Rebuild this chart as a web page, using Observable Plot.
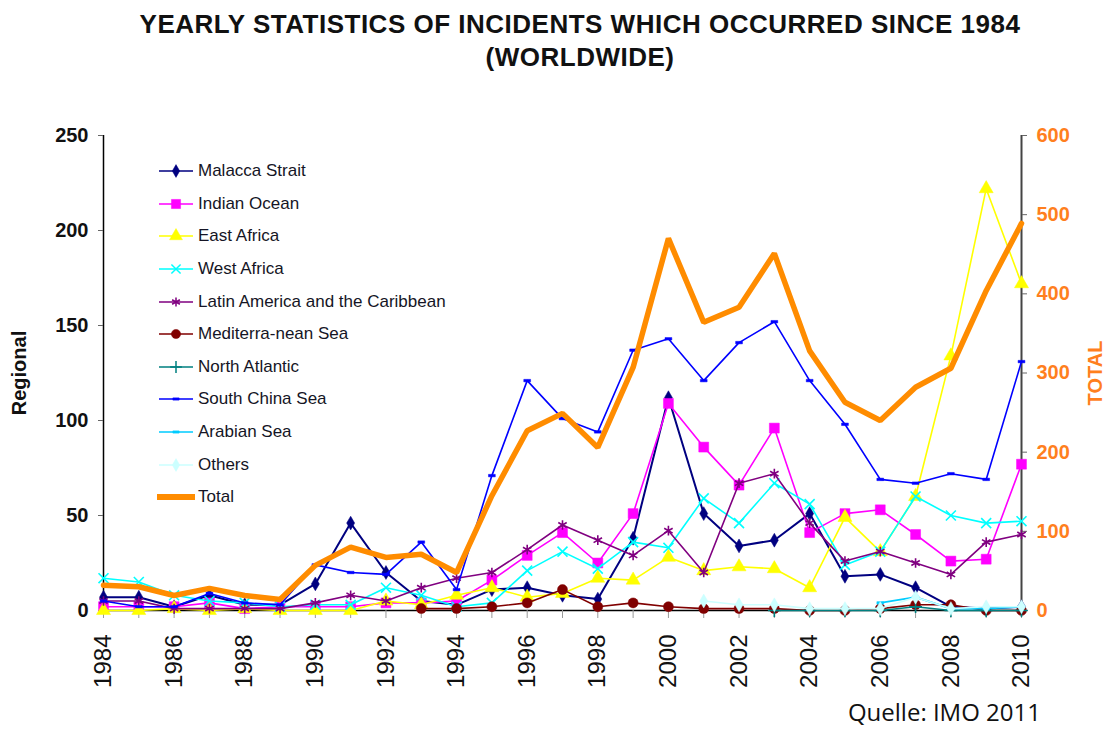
<!DOCTYPE html>
<html><head><meta charset="utf-8">
<script src="https://cdn.jsdelivr.net/npm/d3@7"></script>
<script src="https://cdn.jsdelivr.net/npm/@observablehq/plot@0.6"></script>
<style>
body{margin:0;background:#fff;font-family:"Liberation Sans",Arial,sans-serif;}
#wrap{position:relative;width:1105px;height:731px;overflow:hidden;}
#title{height:90px;box-sizing:border-box;padding-top:8px;padding-left:55px;text-align:center;font-weight:bold;font-size:26px;letter-spacing:0.5px;line-height:33px;color:#111;}
#chart svg{display:block;}
#legend{position:absolute;left:157px;top:155px;}
.row{height:32.6px;display:flex;align-items:center;font-size:17px;color:#151525;white-space:nowrap;}
.row svg{margin-right:3px;}
#caption{position:absolute;right:64px;top:699px;font-family:"Open Sans",sans-serif;font-size:24px;color:#111;line-height:26px;}
</style></head>
<body>
<div id="wrap">
<div id="title">YEARLY STATISTICS OF INCIDENTS WHICH OCCURRED SINCE 1984<br>(WORLDWIDE)</div>
<div id="chart"></div>
<div id="legend"></div>
<div id="caption">Quelle: IMO 2011</div>
</div>
<script>
const years = [1984,1985,1986,1987,1988,1989,1990,1991,1992,1993,1994,1995,1996,1997,1998,1999,2000,2001,2002,2003,2004,2005,2006,2007,2008,2009,2010];
const labelYears = [1984,1986,1988,1990,1992,1994,1996,1998,2000,2002,2004,2006,2008,2010];
const regionalTicks = [0,50,100,150,200,250];
const totalTicks = [0,100,200,300,400,500,600];

const malaccaStrait = [7,7,2,8,3,3,14,46,20,5,3,11,12,8,6,38,112,51,34,37,51,18,19,12,2,1,2];
const indianOcean   = [2,2,2,4,1,2,2,2,4,4,5,16,29,41,25,51,109,86,66,96,41,51,53,40,26,27,77];
const eastAfrica    = [0,0,1,0,1,0,0,0,5,3,8,12,7,9,17,16,28,21,23,22,12,49,31,60,134,222,172];
const westAfrica    = [17,15,8,5,4,2,3,3,12,8,2,4,21,31,22,36,33,59,46,67,56,24,31,60,50,46,47];
const latinAmerica  = [5,5,1,1,1,1,4,8,5,12,17,20,32,45,37,29,42,20,67,72,46,26,31,25,19,36,40];
const mediterranean = [null,null,null,null,null,null,null,null,null,1,1,2,4,11,2,4,2,1,1,1,0,0,1,3,3,0,0];
const northAtlantic = [null,null,null,null,null,null,null,null,null,null,null,null,null,null,null,null,null,null,null,0,0,0,0,2,0,0,0];
const southChinaSea = [5,2,2,9,4,3,24,20,19,36,11,71,121,101,94,137,143,121,141,152,121,98,69,67,72,69,131];
const arabianSea    = [null,null,null,null,null,null,null,null,null,null,null,null,null,null,null,null,null,null,null,null,null,null,4,7,1,1,2];
const others        = [null,null,null,null,null,null,null,null,null,null,null,null,null,null,null,null,null,5,3,3,1,1,1,7,1,2,2];
const total         = [32,30,19,28,19,14,57,80,67,71,48,145,227,249,206,307,470,364,383,451,328,263,240,282,306,404,489];

const REG_MAX = 250, TOT_MAX = 600;
const toReg = v => v * REG_MAX / TOT_MAX;

const dash = {draw(ctx, size){ const w = Math.sqrt(size); ctx.rect(-w*0.6, -w*0.22, w*1.2, w*0.44); }};

const series = [
  {name:"Malacca Strait", values:malaccaStrait, color:"#000080", symbol:"diamond", r:4.2, filled:true, sw:2},
  {name:"Indian Ocean", values:indianOcean, color:"#FF00FF", symbol:"square", r:5.6, filled:true, sw:1.6},
  {name:"East Africa", values:eastAfrica, color:"#FFFF00", symbol:"triangle", r:5.2, filled:true, sw:1.6},
  {name:"West Africa", values:westAfrica, color:"#00FFFF", symbol:"times", r:4.6, filled:false, sw:1.6},
  {name:"Latin America and the Caribbean", values:latinAmerica, color:"#800080", symbol:"asterisk", r:4.6, filled:false, sw:1.6},
  {name:"Mediterra-nean Sea", values:mediterranean, color:"#800000", symbol:"circle", r:5, filled:true, sw:1.6},
  {name:"North Atlantic", values:northAtlantic, color:"#008080", symbol:"plus", r:4.2, filled:false, sw:1.6},
  {name:"South China Sea", values:southChinaSea, color:"#0000FF", symbol:dash, r:3.2, filled:true, sw:1.6},
  {name:"Arabian Sea", values:arabianSea, color:"#00CCFF", symbol:dash, r:3.2, filled:true, sw:1.8},
  {name:"Others", values:others, color:"#CCFFFF", symbol:"diamond", r:4.2, filled:true, sw:1.6}
];

const marks = [
  Plot.ruleY([0], {stroke:"#000", strokeWidth:1.5}),
  Plot.ruleX([years[0]], {stroke:"#000", strokeWidth:1.5}),
  Plot.ruleX([years[years.length-1]], {stroke:"#444", strokeWidth:2}),
  Plot.axisX({ticks:years, tickFormat:()=>"", tickSize:8, stroke:"#999", label:null}),
  Plot.axisX({ticks:labelYears, tickFormat:d=>String(d), tickSize:0, tickPadding:24, tickRotate:-90, fontSize:24, fill:"#111", label:null}),
  Plot.axisY({ticks:regionalTicks, tickSize:5, tickPadding:10, fontSize:20, fontWeight:"bold", fill:"#111", stroke:"#666",
              label:"Regional", labelAnchor:"center", labelArrow:"none", labelOffset:92}),
  Plot.axisY({anchor:"right", ticks:totalTicks.map(toReg), tickFormat:d=>String(Math.round(d*TOT_MAX/REG_MAX)),
              tickSize:5, tickPadding:10, fontSize:20, fontWeight:"bold", fill:"#FF7F1E", stroke:"#666",
              label:"TOTAL", labelAnchor:"center", labelArrow:"none", labelOffset:80})
];

for (const s of series) {
  const rows = years.map((yr, i) => ({year: yr, value: s.values[i]}));
  marks.push(Plot.line(rows, {x:"year", y:"value", stroke:s.color, strokeWidth:s.sw}));
  marks.push(Plot.dot(rows.filter(d => d.value != null), {
    x:"year", y:"value", symbol:()=>s.symbol, r:s.r,
    fill: s.filled ? s.color : "none", stroke: s.color, strokeWidth: s.filled ? 0.5 : 1.6
  }));
}
const totalRows = years.map((yr, i) => ({year: yr, value: toReg(total[i])}));
marks.push(Plot.line(totalRows, {x:"year", y:"value", stroke:"#FF8C00", strokeWidth:5.5, strokeLinejoin:"miter"}));

const chart = Plot.plot({
  width:1105, height:612,
  marginLeft:103, marginRight:84, marginTop:45, marginBottom:92,
  x:{type:"linear", domain:[years[0], years[years.length-1]]},
  y:{domain:[0, REG_MAX]},
  symbol:{type:"identity"},
  style:{fontFamily:"'Liberation Sans', Arial, sans-serif", background:"transparent", overflow:"visible"},
  marks
});
document.getElementById("chart").appendChild(chart);

// legend
const legend = document.getElementById("legend");
const symMap = {diamond:d3.symbolDiamond, square:d3.symbolSquare, triangle:d3.symbolTriangle, times:d3.symbolTimes,
                asterisk:d3.symbolAsterisk, circle:d3.symbolCircle, plus:d3.symbolPlus};
const legendItems = series.concat([{name:"Total", color:"#FF8C00", total:true}]);
for (const s of legendItems) {
  const row = document.createElement("div");
  row.className = "row";
  let inner = "";
  if (s.total) {
    inner = `<line x1="1" x2="37" y1="8" y2="8" stroke="${s.color}" stroke-width="6" stroke-linecap="round"/>`;
  } else {
    const type = typeof s.symbol === "string" ? symMap[s.symbol] : s.symbol;
    const path = d3.symbol(type, Math.PI * s.r * s.r * 0.85)();
    inner = `<line x1="2" x2="36" y1="8" y2="8" stroke="${s.color}" stroke-width="2" opacity="0.75"/>` +
      `<path transform="translate(19,8)" d="${path}" fill="${s.filled ? s.color : "none"}" stroke="${s.color}" stroke-width="${s.filled ? 0.5 : 1.5}"/>`;
  }
  row.innerHTML = `<svg width="38" height="16">${inner}</svg><span>${s.name}</span>`;
  legend.appendChild(row);
}
</script>
</body></html>
